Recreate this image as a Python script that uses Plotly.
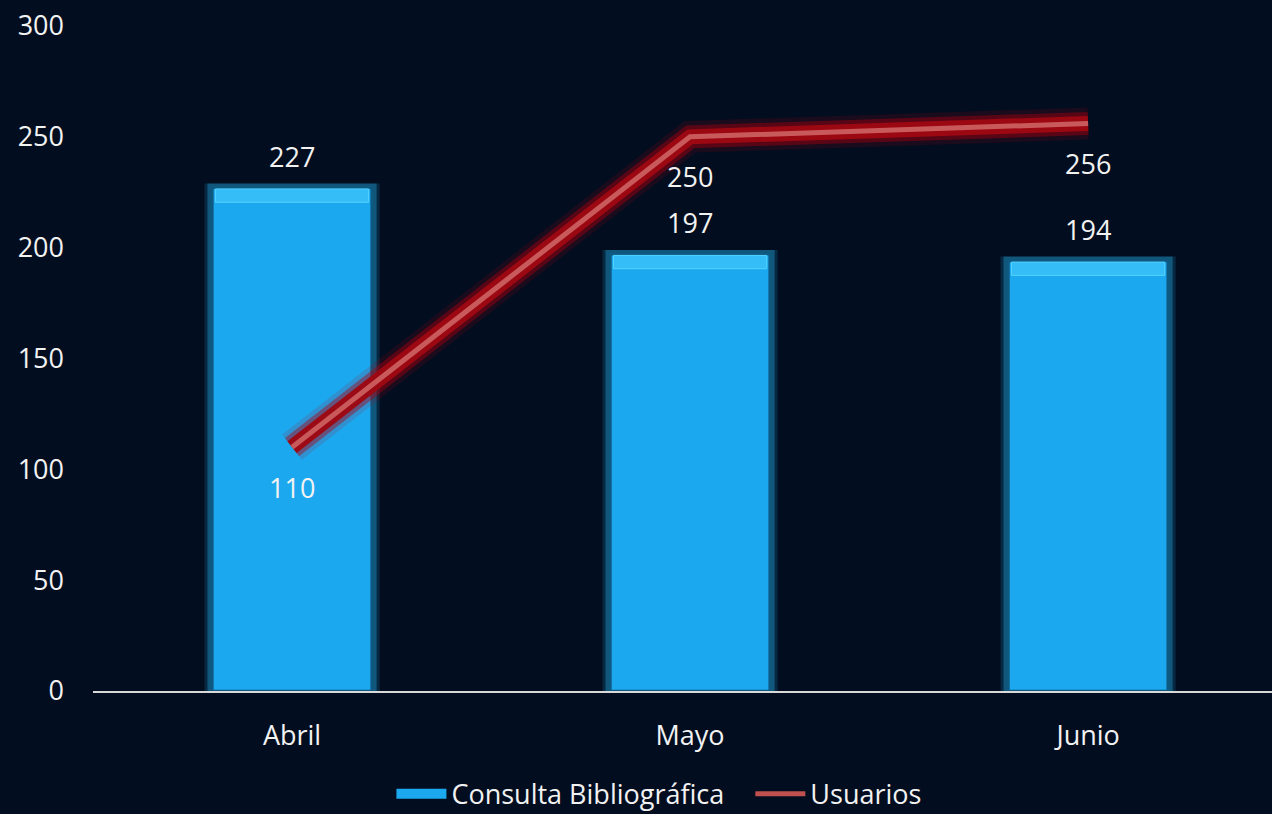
import plotly.graph_objects as go

# data
meses = ["Abril", "Mayo", "Junio"]
consultas = [227, 197, 194]
usuarios = [110, 250, 256]
y_ticks = [0, 50, 100, 150, 200, 250, 300]

FONT = "Open Sans"
TXT = "#F2F2F2"
BG = "#020D20"
BAR = "#1CA8EF"

fig = go.Figure()

# soft cyan glow behind the bars
for w, col in [(0.44, "rgba(40,185,245,0.16)"), (0.425, "rgba(40,185,245,0.32)")]:
    fig.add_trace(go.Bar(
        x=meses, y=[v + 2 for v in consultas], width=w,
        marker=dict(color=col, line=dict(width=0)),
        showlegend=False, hoverinfo="skip"
    ))

# main bars
fig.add_trace(go.Bar(
    x=meses, y=consultas, width=0.4, name="Consulta Bibliográfica",
    marker=dict(color=BAR, line=dict(color="#0E5A82", width=2.5)),
    showlegend=False
))

# lighter bevel strip on the bar tops
fig.add_trace(go.Bar(
    x=meses, y=[6] * len(consultas), base=[v - 6.5 for v in consultas], width=0.385,
    marker=dict(color="#35BDF7", line=dict(color="#55D3FF", width=1)),
    showlegend=False, hoverinfo="skip"
))

# red glow for the line
for w, col in [(32, "rgba(175,0,15,0.14)"), (23, "rgba(175,0,15,0.42)"), (15, "rgba(158,8,18,0.97)")]:
    fig.add_trace(go.Scatter(
        x=meses, y=usuarios, mode="lines",
        line=dict(color=col, width=w),
        showlegend=False, hoverinfo="skip"
    ))

fig.add_trace(go.Scatter(
    x=meses, y=usuarios, mode="lines", name="Usuarios",
    line=dict(color="#C95A5C", width=5), showlegend=False
))

# legend entries (thick line stands in for the bar swatch)
fig.add_trace(go.Scatter(
    x=[None], y=[None], mode="lines", name="Consulta Bibliográfica\u00a0\u00a0\u00a0",
    line=dict(color=BAR, width=17)
))
fig.add_trace(go.Scatter(
    x=[None], y=[None], mode="lines", name="Usuarios",
    line=dict(color="#C0504D", width=5)
))

# value labels
for m, v in zip(meses, consultas):
    fig.add_annotation(x=m, y=v, text=str(v), showarrow=False,
                       yanchor="bottom", yshift=11,
                       font=dict(family=FONT, size=27, color=TXT))
for m, v in zip(meses, usuarios):
    fig.add_annotation(x=m, y=v, text=str(v), showarrow=False,
                       yanchor="middle", yshift=-40,
                       font=dict(family=FONT, size=27, color=TXT))

fig.update_layout(
    width=1272, height=814,
    paper_bgcolor=BG, plot_bgcolor=BG,
    barmode="overlay",
    margin=dict(l=93, r=0, t=26, b=123, autoexpand=False),
    font=dict(family=FONT, size=27, color=TXT),
    legend=dict(orientation="h", x=0.48, xanchor="center", y=-0.155, yanchor="middle",
                font=dict(family=FONT, size=27, color=TXT),
                bgcolor="rgba(0,0,0,0)", itemwidth=50, traceorder="normal"),
    xaxis=dict(range=[-0.5, 2.462], showgrid=False, zeroline=False,
               showline=True, linecolor="#D9D9D9", linewidth=2,
               ticks="", ticklabelstandoff=20, tickfont=dict(size=27, color=TXT)),
    yaxis=dict(range=[0, 300], tickvals=y_ticks, showgrid=False, zeroline=False,
               showline=False, ticks="", ticklabelstandoff=28,
               tickfont=dict(size=27, color=TXT)),
)

fig.write_html("out.html", config={"displayModeBar": False},
               post_script="document.body.style.margin='0';document.body.style.background='#020D20';")
